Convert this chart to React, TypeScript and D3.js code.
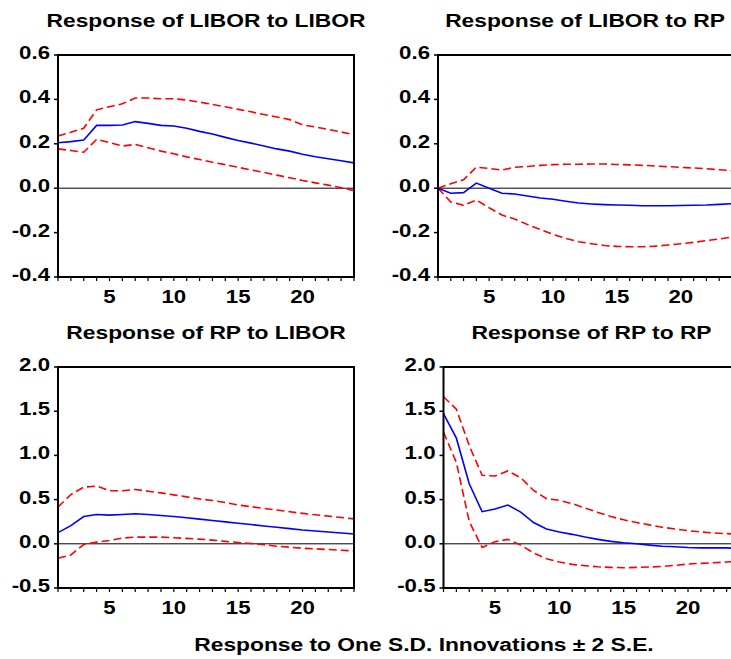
import { useEffect, useRef } from 'react'
import * as d3 from 'd3'

// impulse responses, periods 1..24
const periods = d3.range(1, 25)

const liborLiborMid = [0.205, 0.21, 0.217, 0.283, 0.283, 0.285, 0.3, 0.292, 0.283, 0.28, 0.27, 0.256, 0.244, 0.229, 0.215, 0.203, 0.19, 0.177, 0.167, 0.153, 0.142, 0.133, 0.124, 0.114]
const liborLiborHi = [0.235, 0.252, 0.27, 0.353, 0.367, 0.38, 0.406, 0.406, 0.403, 0.403, 0.397, 0.388, 0.377, 0.367, 0.355, 0.344, 0.332, 0.321, 0.309, 0.285, 0.276, 0.265, 0.253, 0.241]
const liborLiborLo = [0.177, 0.17, 0.162, 0.22, 0.205, 0.19, 0.197, 0.182, 0.167, 0.155, 0.141, 0.129, 0.117, 0.106, 0.094, 0.082, 0.071, 0.059, 0.047, 0.035, 0.024, 0.014, 0.002, -0.011]

const liborRpMid = [0, -0.023, -0.02, 0.023, 0, -0.023, -0.026, -0.035, -0.044, -0.05, -0.059, -0.067, -0.071, -0.074, -0.076, -0.077, -0.079, -0.079, -0.079, -0.078, -0.077, -0.076, -0.073, -0.07]
const liborRpHi = [0, 0.02, 0.038, 0.095, 0.089, 0.082, 0.094, 0.098, 0.103, 0.106, 0.108, 0.108, 0.109, 0.109, 0.107, 0.105, 0.103, 0.1, 0.097, 0.094, 0.091, 0.088, 0.083, 0.079]
const liborRpLo = [0, -0.062, -0.077, -0.053, -0.088, -0.121, -0.139, -0.164, -0.186, -0.208, -0.226, -0.241, -0.25, -0.258, -0.262, -0.264, -0.264, -0.261, -0.256, -0.25, -0.244, -0.236, -0.229, -0.22]

const rpLiborMid = [0.126, 0.206, 0.309, 0.332, 0.324, 0.332, 0.34, 0.332, 0.32, 0.309, 0.294, 0.279, 0.263, 0.248, 0.233, 0.218, 0.202, 0.187, 0.172, 0.156, 0.145, 0.134, 0.122, 0.111]
const rpLiborHi = [0.416, 0.557, 0.641, 0.653, 0.6, 0.6, 0.615, 0.595, 0.576, 0.553, 0.531, 0.508, 0.489, 0.466, 0.439, 0.42, 0.4, 0.382, 0.363, 0.344, 0.328, 0.313, 0.298, 0.282]
const rpLiborLo = [-0.164, -0.126, -0.008, 0.019, 0.038, 0.065, 0.076, 0.076, 0.076, 0.069, 0.061, 0.053, 0.042, 0.027, 0.015, 0.004, -0.011, -0.027, -0.038, -0.05, -0.057, -0.065, -0.073, -0.08]

const rpRpMid = [1.473, 1.195, 0.679, 0.363, 0.393, 0.439, 0.359, 0.24, 0.168, 0.134, 0.107, 0.076, 0.05, 0.027, 0.011, 0, -0.015, -0.027, -0.034, -0.042, -0.046, -0.046, -0.046, -0.053]
const rpRpHi = [1.664, 1.523, 1.111, 0.775, 0.767, 0.824, 0.748, 0.603, 0.511, 0.492, 0.454, 0.405, 0.355, 0.309, 0.271, 0.24, 0.214, 0.187, 0.168, 0.149, 0.134, 0.122, 0.115, 0.107]
const rpRpLo = [1.263, 0.92, 0.252, -0.042, 0.023, 0.05, -0.015, -0.103, -0.168, -0.206, -0.233, -0.248, -0.26, -0.267, -0.271, -0.267, -0.263, -0.256, -0.244, -0.229, -0.221, -0.214, -0.206, -0.198]

const topTicks = [-0.4, -0.2, 0.0, 0.2, 0.4, 0.6]
const bottomTicks = [-0.5, 0.0, 0.5, 1.0, 1.5, 2.0]
const xLabels = [5, 10, 15, 20]

const titles = ['Response of LIBOR to LIBOR', 'Response of LIBOR to RP', 'Response of RP to LIBOR', 'Response of RP to RP']
const footer = 'Response to One S.D. Innovations \u00b1 2 S.E.'

const W = 731
const H = 659
const FONT = '"Liberation Sans", Arial, sans-serif'

export default function App() {
  const svgRef = useRef<SVGSVGElement>(null)

  useEffect(() => {
    if (!svgRef.current) return
    const svg = d3.select(svgRef.current)
    svg.selectAll('*').remove()

    const panels = [
      { title: titles[0], mid: liborLiborMid, hi: liborLiborHi, lo: liborLiborLo, ticks: topTicks, x0: 58, x1: 354, y0: 55, y1: 277 },
      { title: titles[1], mid: liborRpMid, hi: liborRpHi, lo: liborRpLo, ticks: topTicks, x0: 438, x1: 732, y0: 55, y1: 277 },
      { title: titles[2], mid: rpLiborMid, hi: rpLiborHi, lo: rpLiborLo, ticks: bottomTicks, x0: 58, x1: 354, y0: 367, y1: 588 },
      { title: titles[3], mid: rpRpMid, hi: rpRpHi, lo: rpRpLo, ticks: bottomTicks, x0: 443.5, x1: 739.5, y0: 367, y1: 588 },
    ]

    // stretched bold text like the original export
    const label = (x: number, y: number, txt: string, size: number, anchor: string, sx: number) =>
      svg.append('text')
        .attr('transform', `translate(${x},${y}) scale(${sx},1)`)
        .attr('text-anchor', anchor)
        .attr('font-family', FONT)
        .attr('font-weight', 'bold')
        .attr('font-size', size)
        .attr('fill', '#000')
        .text(txt)

    panels.forEach(p => {
      const x = d3.scaleLinear().domain([1, 24]).range([p.x0, p.x1])
      const y = d3.scaleLinear().domain([p.ticks[0], p.ticks[p.ticks.length - 1]]).range([p.y1, p.y0])

      label((p.x0 + p.x1) / 2, p.y0 - 28, p.title, 19, 'middle', 1.2)

      // y ticks + labels
      p.ticks.forEach(t => {
        svg.append('line')
          .attr('x1', p.x0 - 4).attr('x2', p.x0)
          .attr('y1', y(t)).attr('y2', y(t))
          .attr('stroke', '#000').attr('stroke-width', 1.5)
        label(p.x0 - 8, y(t) + 4, t.toFixed(1), 17.5, 'end', 1.27)
      })

      // x ticks at every period
      periods.forEach(d => {
        svg.append('line')
          .attr('x1', x(d)).attr('x2', x(d))
          .attr('y1', p.y1).attr('y2', p.y1 + 4)
          .attr('stroke', '#000').attr('stroke-width', 1.2)
      })
      xLabels.forEach(d => label(x(d), p.y1 + 26, String(d), 17.5, 'middle', 1.27))

      // zero line
      svg.append('line')
        .attr('x1', p.x0).attr('x2', p.x1)
        .attr('y1', y(0)).attr('y2', y(0))
        .attr('stroke', '#000').attr('stroke-width', 1)

      const line = d3.line<number>()
        .x((_, i) => x(periods[i]))
        .y(d => y(d))

      ;[p.hi, p.lo].forEach(s => {
        svg.append('path')
          .attr('d', line(s))
          .attr('fill', 'none')
          .attr('stroke', '#ff0000')
          .attr('stroke-width', 1.6)
          .attr('stroke-dasharray', '8,4')
      })

      svg.append('path')
        .attr('d', line(p.mid))
        .attr('fill', 'none')
        .attr('stroke', '#0000ff')
        .attr('stroke-width', 1.6)

      svg.append('rect')
        .attr('x', p.x0).attr('y', p.y0)
        .attr('width', p.x1 - p.x0).attr('height', p.y1 - p.y0)
        .attr('fill', 'none')
        .attr('stroke', '#000')
        .attr('stroke-width', 2)
    })

    label(424, 651, footer, 19, 'middle', 1.2)
  }, [])

  return (
    <>
      <style>{'body{margin:0;}'}</style>
      <svg ref={svgRef} width={W} height={H} style={{ display: 'block', background: '#fff' }} />
    </>
  )
}
